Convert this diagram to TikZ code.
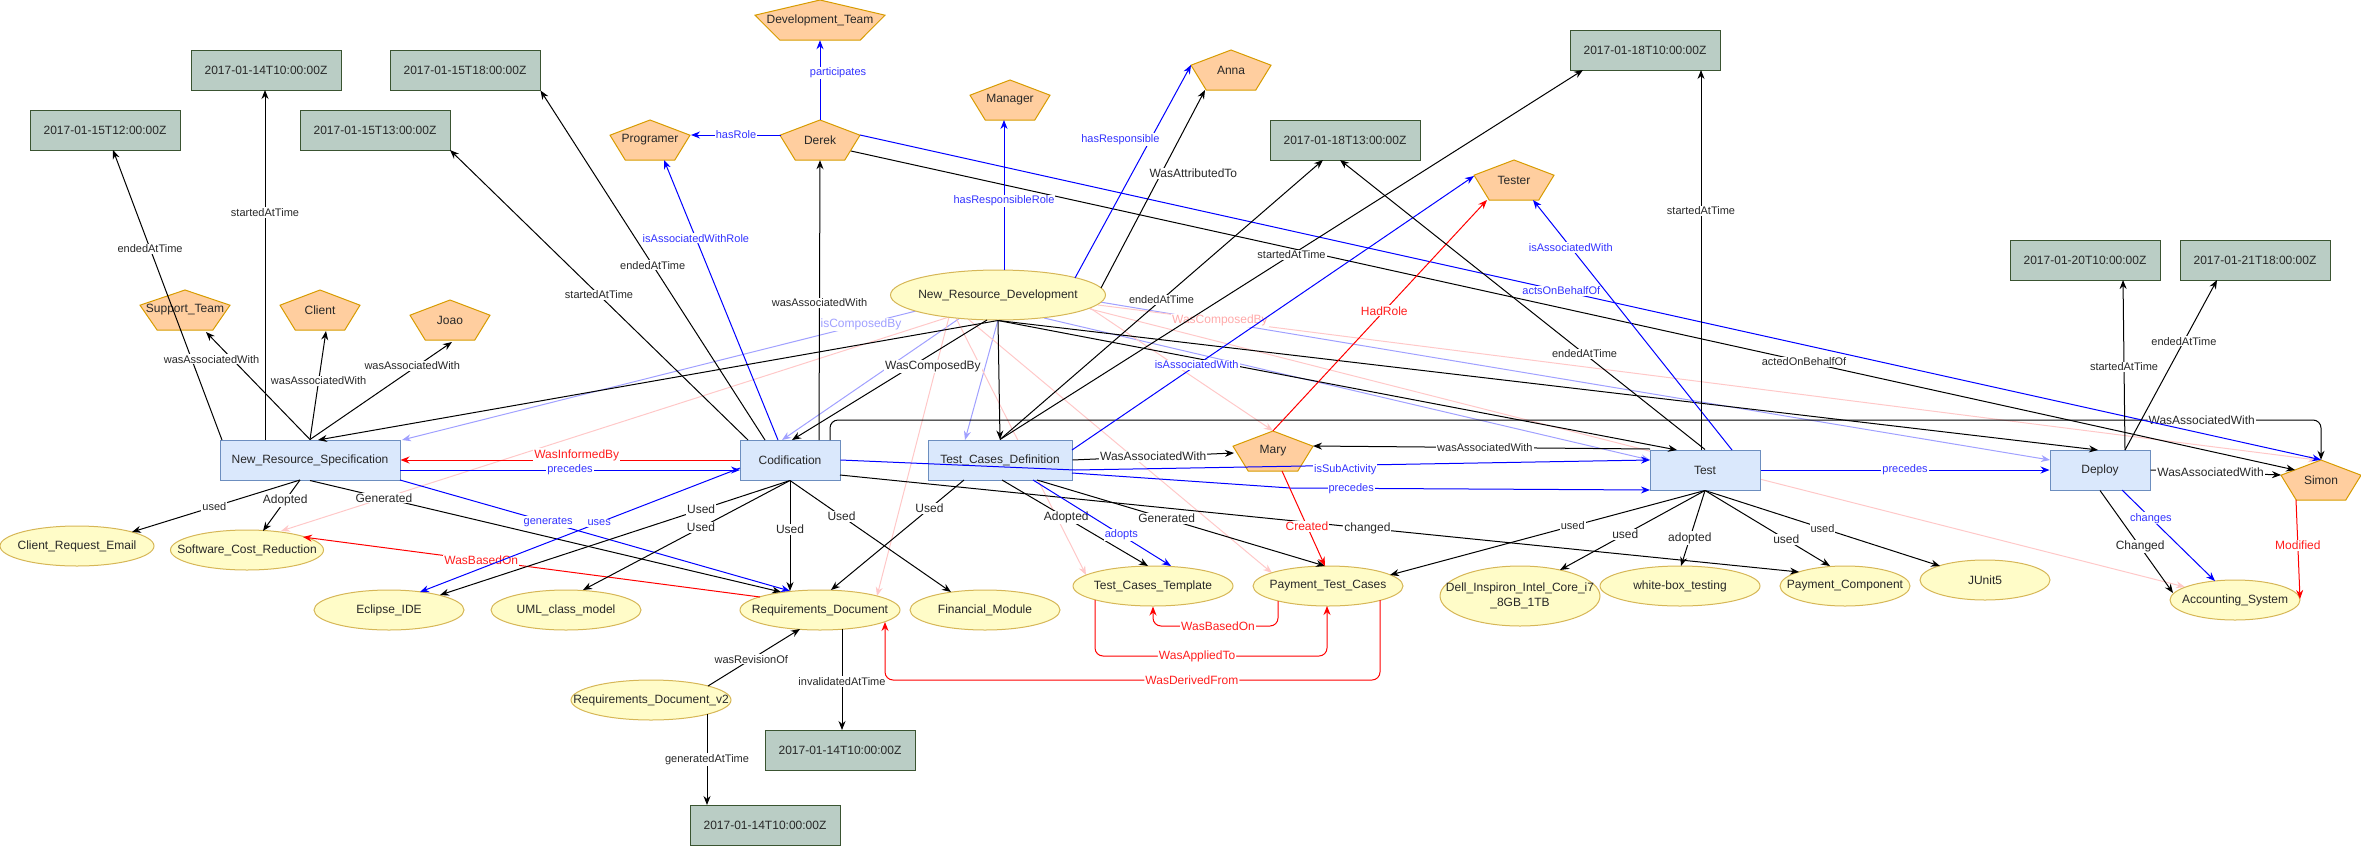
\documentclass[tikz,border=0pt]{standalone}
\usepackage{fontspec}
\setmainfont{Liberation Sans}
\usetikzlibrary{shapes.geometric,arrows.meta}
\pgfdeclarelayer{bg}
\pgfsetlayers{bg,main}
\definecolor{tfill}{RGB}{186,205,197}
\definecolor{tdraw}{RGB}{58,84,49}
\definecolor{agfill}{RGB}{255,206,159}
\definecolor{agdraw}{RGB}{215,155,0}
\definecolor{acfill}{RGB}{218,232,252}
\definecolor{acdraw}{RGB}{108,142,191}
\definecolor{enfill}{RGB}{255,252,200}
\definecolor{endraw}{RGB}{214,182,86}
\definecolor{txt}{RGB}{40,40,40}
\definecolor{cblue}{RGB}{0,0,255}
\definecolor{cbluet}{RGB}{51,51,255}
\definecolor{cred}{RGB}{255,0,0}
\definecolor{credt}{RGB}{255,30,30}
\definecolor{clblue}{RGB}{160,160,255}
\definecolor{cpink}{RGB}{255,200,200}
\definecolor{cpinkt}{RGB}{255,170,170}
\newcommand{\fsz}[1]{\fontsize{#1}{15}\selectfont}
\newcommand{\ztext}[1]{\makebox[0pt][c]{#1}}
\newcommand{\agentnode}[5]{%
  \filldraw[agentshape] (#2,#3) ++(0,-20) -- ++(#4/2,15.2) -- ++(-0.19*#4,24.8) -- ++(-0.62*#4,0) -- ++(-0.19*#4,-24.8) -- cycle;
  \node[agenttext, minimum width=#4pt] (#1) at (#2,#3) {#5};}
\tikzset{
  timebox/.style={rectangle, draw=tdraw, fill=tfill, line width=1pt, minimum width=150pt, minimum height=40pt, inner sep=0pt, font=\fsz{12}, text=txt},
  activity/.style={rectangle, draw=acdraw, fill=acfill, line width=1pt, minimum height=40pt, inner sep=0pt, font=\fsz{12}, text=txt},
  entity/.style={ellipse, draw=endraw, fill=enfill, line width=1pt, minimum height=40pt, inner sep=0pt, font=\fsz{12}, text=txt},
  agentshape/.style={draw=agdraw, fill=agfill, line width=1pt, line join=miter},
  agenttext/.style={rectangle, minimum height=40pt, inner sep=0pt, font=\fsz{12}, text=txt},
  conn/.style={line width=1pt, draw=black, -{Stealth[length=9pt,width=7pt]}},
  bedge/.style={draw=cblue},
  redge/.style={draw=cred},
  lbedge/.style={draw=clblue},
  pedge/.style={draw=cpink},
  lbl/.style={fill=white, inner sep=1pt, font=\fsz{11}, text=txt},
  bl12/.style={font=\fsz{12}}
}
\begin{document}
\begin{tikzpicture}[x=1pt,y=-1pt]
\useasboundingbox (0,0) rectangle (2361,846);
% time nodes
\node[timebox] (T1) at (266,70) {2017-01-14T10:00:00Z};
\node[timebox] (T2) at (465,70) {2017-01-15T18:00:00Z};
\node[timebox] (T3) at (105,130) {2017-01-15T12:00:00Z};
\node[timebox] (T4) at (375,130) {2017-01-15T13:00:00Z};
\node[timebox] (T5) at (1645,50) {2017-01-18T10:00:00Z};
\node[timebox] (T6) at (1345,140) {2017-01-18T13:00:00Z};
\node[timebox] (T7) at (2085,260) {2017-01-20T10:00:00Z};
\node[timebox] (T8) at (2255,260) {2017-01-21T18:00:00Z};
\node[timebox] (T9) at (840,750) {2017-01-14T10:00:00Z};
\node[timebox] (T10) at (765,825) {2017-01-14T10:00:00Z};
% agents
\agentnode{DevTeam}{820}{20}{130}{Development\_Team}
\agentnode{Programer}{650}{140}{80}{Programer}
\agentnode{Derek}{820}{140}{80}{Derek}
\agentnode{Manager}{1010}{100}{80}{Manager}
\agentnode{Anna}{1231}{70}{80}{Anna}
\agentnode{Tester}{1514}{180}{80}{Tester}
\agentnode{SupportTeam}{185}{310}{90}{Support\_Team}
\agentnode{Client}{320}{310}{80}{Client}
\agentnode{Joao}{450}{320}{80}{Joao}
\agentnode{Mary}{1273}{451}{80}{Mary}
\agentnode{Simon}{2321}{480}{80}{Simon}
% activities
\node[activity, minimum width=180pt] (NRS) at (310,460) {New\_Resource\_Specification};
\node[activity, minimum width=100pt] (Cod) at (790,460) {Codification};
\node[activity, minimum width=144pt] (TCD) at (1000,460) {Test\_Cases\_Definition};
\node[activity, minimum width=110pt] (Test) at (1705,470) {Test};
\node[activity, minimum width=100pt] (Deploy) at (2100,470) {Deploy};
% entities
\node[entity, minimum width=215pt, minimum height=50pt] (NRD) at (998,295) {\ztext{New\_Resource\_Development}};
\node[entity, minimum width=154pt] (CRE) at (77,546) {\ztext{Client\_Request\_Email}};
\node[entity, minimum width=153pt] (SCR) at (247,550) {\ztext{Software\_Cost\_Reduction}};
\node[entity, minimum width=150pt] (Eclipse) at (389,610) {\ztext{Eclipse\_IDE}};
\node[entity, minimum width=150pt] (UML) at (566,610) {\ztext{UML\_class\_model}};
\node[entity, minimum width=160pt] (ReqDoc) at (820,610) {\ztext{Requirements\_Document}};
\node[entity, minimum width=150pt] (FinMod) at (985,610) {\ztext{Financial\_Module}};
\node[entity, minimum width=160pt] (TCT) at (1153,586) {\ztext{Test\_Cases\_Template}};
\node[entity, minimum width=150pt] (PTC) at (1328,586) {\ztext{Payment\_Test\_Cases}};
\node[entity, minimum width=160pt, minimum height=60pt] (Dell) at (1520,596) {\ztext{\begin{tabular}{@{}c@{}}Dell\_Inspiron\_Intel\_Core\_i7\\\_8GB\_1TB\end{tabular}}};
\node[entity, minimum width=160pt] (WBT) at (1680,586) {\ztext{white-box\_testing}};
\node[entity, minimum width=130pt] (PayComp) at (1845,586) {\ztext{Payment\_Component}};
\node[entity, minimum width=130pt] (JUnit5) at (1985,580) {\ztext{JUnit5}};
\node[entity, minimum width=130pt] (AccSys) at (2235,600) {\ztext{Accounting\_System}};
\node[entity, minimum width=160pt] (ReqDocV2) at (651,700) {\ztext{Requirements\_Document\_v2}};

% faint composition edges
\begin{pgfonlayer}{bg}
\draw[conn,lbedge] ([shift={(-82,16)}]NRD.center) -- node[lbl,text=clblue,font=\fsz{12},pos=0.107]{isComposedBy} ([shift={(92,-20)}]NRS.center);
\draw[conn,lbedge] ([shift={(-38,23)}]NRD.center) -- ([shift={(-8,-20)}]Cod.center);
\draw[conn,lbedge] ([shift={(0,25)}]NRD.center) -- ([shift={(-35,-20)}]TCD.center);
\draw[conn,lbedge] ([shift={(46,23)}]NRD.center) -- ([shift={(-55,-10)}]Test.center);
\draw[conn,lbedge] ([shift={(102,7)}]NRD.center) -- ([shift={(-50,-10)}]Deploy.center);
\draw[conn,pedge] ([shift={(-49,22)}]NRD.center) -- ([shift={(34,-19)}]SCR.center);
\draw[conn,pedge] ([shift={(-49,22)}]NRD.center) -- ([shift={(57,-14)}]ReqDoc.center);
\draw[conn,pedge] ([shift={(-42,23)}]NRD.center) -- ([shift={(-67,-11)}]TCT.center);
\draw[conn,pedge] ([shift={(-30,24)}]NRD.center) -- ([shift={(-56,-13)}]PTC.center);
\draw[conn,pedge] ([shift={(92,13)}]NRD.center) -- (Mary.north);
\draw[conn,pedge] ([shift={(100,10)}]NRD.center) -- node[lbl,text=cpinkt,font=\fsz{12},pos=0.1]{WasComposedBy} ([shift={(-4,-20)}]Simon.center);
\draw[conn,pedge] ([shift={(92,14)}]NRD.center) -- ([shift={(-50,-13)}]AccSys.center);
\end{pgfonlayer}

% New_Resource_Specification
\draw[conn] ([shift={(-88,-20)}]NRS.center) -- node[lbl,pos=0.66]{endedAtTime} ([shift={(8,20)}]T3.center);
\draw[conn] ([shift={(-45,-20)}]NRS.center) -- node[lbl,pos=0.65]{startedAtTime} ([shift={(-1,20)}]T1.center);
\draw[conn] (NRS.north) -- node[lbl,pos=0.745,xshift=-21pt]{wasAssociatedWith} ([shift={(21,22)}]SupportTeam.center);
\draw[conn] (NRS.north) -- node[lbl,pos=0.54]{wasAssociatedWith} ([shift={(6,21)}]Client.center);
\draw[conn] (NRS.north) -- node[lbl,pos=0.755,xshift=-5pt]{wasAssociatedWith} ([shift={(2,22)}]Joao.center);
\draw[conn] ([shift={(-10,20)}]NRS.center) -- node[lbl,pos=0.51]{used} ([shift={(55,-14)}]CRE.center);
\draw[conn] ([shift={(-10,20)}]NRS.center) -- node[lbl,bl12,pos=0.4]{Adopted} ([shift={(16,-19)}]SCR.center);
\draw[conn] (NRS.south) -- node[lbl,bl12,pos=0.157]{Generated} ([shift={(-39,-18)}]ReqDoc.center);
\draw[conn,bedge] ([shift={(90,20)}]NRS.center) -- node[lbl,text=cbluet,pos=0.38]{generates} ([shift={(-30,-19)}]ReqDoc.center);
\draw[conn,redge] (Cod.west) -- node[lbl,text=credt,bl12,pos=0.48,yshift=5pt]{WasInformedBy} (NRS.east);
\draw[conn,bedge] ([shift={(90,10)}]NRS.center) -- node[lbl,text=cbluet]{precedes} ([shift={(-50,10)}]Cod.center);
\draw[conn,redge] ([shift={(-60,-13)}]ReqDoc.center) -- node[lbl,text=credt,bl12,pos=0.61]{WasBasedOn} ([shift={(56,-13)}]SCR.center);

% Codification
\draw[conn,bedge] ([shift={(-50,8)}]Cod.center) -- node[lbl,text=cbluet,pos=0.44]{uses} ([shift={(31,-18)}]Eclipse.center);
\draw[conn] (Cod.south) -- node[lbl,bl12,pos=0.254]{Used} ([shift={(51,-15)}]Eclipse.center);
\draw[conn] (Cod.south) -- node[lbl,bl12,pos=0.43]{Used} ([shift={(17,-20)}]UML.center);
\draw[conn] (Cod.south) -- node[lbl,bl12,pos=0.44]{Used} ([shift={(-30,-19)}]ReqDoc.center);
\draw[conn] (Cod.south) -- node[lbl,bl12,pos=0.32]{Used} ([shift={(-34,-18)}]FinMod.center);
\draw[conn] ([shift={(50,15)}]Cod.center) -- node[lbl,bl12,pos=0.55]{changed} ([shift={(-46,-14)}]PayComp.center);
\draw[conn,bedge] (Cod.east) -- (1075,470) -- node[lbl,text=cbluet,pos=0.47,yshift=-4pt]{isSubActivity} ([shift={(-55,-10)}]Test.center);
\draw[conn,bedge] ([shift={(-12,-20)}]Cod.center) -- node[lbl,text=cbluet,pos=0.72]{isAssociatedWithRole} ([shift={(14,20)}]Programer.center);
\draw[conn] ([shift={(29,-20)}]Cod.center) -- node[lbl,pos=0.49]{wasAssociatedWith} (Derek.south);
\draw[conn] ([shift={(-25,-20)}]Cod.center) -- node[lbl,pos=0.5]{endedAtTime} (T2.south east);
\draw[conn] ([shift={(-42,-20)}]Cod.center) -- node[lbl,pos=0.5]{startedAtTime} ([shift={(75,20)}]T4.center);
\draw[conn,rounded corners=8pt] ([shift={(40,-20)}]Cod.center) -- ++(0,-20) -- node[lbl,bl12,pos=0.92]{WasAssociatedWith} ++(1491,0) -- (Simon.north);

% Derek
\draw[conn,bedge] (Derek.north) -- node[lbl,text=cbluet,pos=0.59,xshift=18pt]{participates} (DevTeam.south);
\draw[conn,bedge] ([shift={(-39,-5)}]Derek.center) -- node[lbl,text=cbluet]{hasRole} ([shift={(41,-5)}]Programer.center);
\draw[conn,bedge] ([shift={(40,-5)}]Derek.center) -- node[lbl,text=cbluet,pos=0.48]{actsOnBehalfOf} (Simon.north);
\draw[conn] ([shift={(31,11)}]Derek.center) -- node[lbl,pos=0.66]{actedOnBehalfOf} ([shift={(-26,-10)}]Simon.center);

% New_Resource_Development
\draw[conn] (NRD.south) -- (TCD.north);
\draw[conn] (NRD.south) -- ([shift={(8,-20)}]NRS.center);
\draw[conn] ([shift={(-11,25)}]NRD.center) -- node[lbl,bl12,pos=0.39,xshift=22pt]{WasComposedBy} ([shift={(2,-20)}]Cod.center);
\draw[conn] (NRD.south) -- ([shift={(-28,-20)}]Test.center);
\draw[conn] (NRD.south) -- ([shift={(-2,-20)}]Deploy.center);
\draw[conn] ([shift={(103,-7)}]NRD.center) -- node[lbl,bl12,pos=0.58,xshift=32pt]{WasAttributedTo} ([shift={(-26,20)}]Anna.center);
\draw[conn,bedge] ([shift={(77,-17)}]NRD.center) -- node[lbl,text=cbluet,pos=0.65,xshift=-30pt]{hasResponsible} ([shift={(-40,-5)}]Anna.center);
\draw[conn,bedge] ([shift={(6,-25)}]NRD.center) -- node[lbl,text=cbluet,pos=0.46]{hasResponsibleRole} ([shift={(-6,20)}]Manager.center);

% Test_Cases_Definition
\draw[conn] (TCD.north) -- node[lbl,pos=0.5]{endedAtTime} ([shift={(-22,20)}]T6.center);
\draw[conn] (TCD.north) -- node[lbl,pos=0.5]{startedAtTime} ([shift={(-62,20)}]T5.center);
\draw[conn] (TCD.east) -- node[lbl,bl12]{WasAssociatedWith} ([shift={(-39,2)}]Mary.center);
\draw[conn,bedge] ([shift={(72,-10)}]TCD.center) -- node[lbl,text=cbluet,pos=0.31]{isAssociatedWith} ([shift={(-40,-4)}]Tester.center);
\draw[conn,bedge] ([shift={(72,13)}]TCD.center) -- (1290,488) -- node[lbl,text=cbluet,pos=0.17]{precedes} ([shift={(-55,20)}]Test.center);
\draw[conn] ([shift={(-36,20)}]TCD.center) -- node[lbl,bl12,pos=0.26]{Used} ([shift={(11,-20)}]ReqDoc.center);
\draw[conn] ([shift={(2,20)}]TCD.center) -- node[lbl,bl12,pos=0.44]{Adopted} ([shift={(-5,-20)}]TCT.center);
\draw[conn,bedge] ([shift={(33,20)}]TCD.center) -- node[lbl,text=cbluet,pos=0.64]{adopts} ([shift={(18,-20)}]TCT.center);
\draw[conn] ([shift={(37,20)}]TCD.center) -- node[lbl,bl12,pos=0.45]{Generated} ([shift={(-3,-20)}]PTC.center);

% Mary
\draw[conn,redge] (Mary.north) -- node[lbl,text=credt,bl12,pos=0.52]{HadRole} ([shift={(-27,20)}]Tester.center);
\draw[conn,redge] ([shift={(9,20)}]Mary.center) -- node[lbl,text=credt,bl12,pos=0.58]{Created} ([shift={(-3,-20)}]PTC.center);

% Test
\draw[conn] ([shift={(-55,-21)}]Test.center) -- node[lbl,pos=0.49]{wasAssociatedWith} ([shift={(40,-5)}]Mary.center);
\draw[conn,bedge] ([shift={(27,-20)}]Test.center) -- node[lbl,text=cbluet,pos=0.81]{isAssociatedWith} ([shift={(19,20)}]Tester.center);
\draw[conn] (Test.north) -- node[lbl,pos=0.33]{endedAtTime} ([shift={(-5,20)}]T6.center);
\draw[conn] ([shift={(-4,-20)}]Test.center) -- node[lbl,pos=0.63]{startedAtTime} ([shift={(56,20)}]T5.center);
\draw[conn,bedge] (Test.east) -- node[lbl,text=cbluet]{precedes} (Deploy.west);
\draw[conn] (Test.south) -- node[lbl,pos=0.42]{used} ([shift={(62,-11)}]PTC.center);
\draw[conn] (Test.south) -- node[lbl,bl12,pos=0.55]{used} ([shift={(40,-26)}]Dell.center);
\draw[conn] (Test.south) -- node[lbl,bl12,pos=0.63]{adopted} ([shift={(1,-20)}]WBT.center);
\draw[conn] (Test.south) -- node[lbl,bl12,pos=0.65]{used} ([shift={(-15,-20)}]PayComp.center);
\draw[conn] (Test.south) -- node[lbl,pos=0.5]{used} ([shift={(-45,-14)}]JUnit5.center);

% Deploy
\draw[conn] (Deploy.east) -- node[lbl,bl12,pos=0.46]{WasAssociatedWith} ([shift={(-40,-5)}]Simon.center);
\draw[conn] ([shift={(25,-20)}]Deploy.center) -- node[lbl,pos=0.49]{startedAtTime} ([shift={(38,20)}]T7.center);
\draw[conn] ([shift={(25,-20)}]Deploy.center) -- node[lbl,pos=0.64]{endedAtTime} ([shift={(-38,20)}]T8.center);
\draw[conn] (Deploy.south) -- node[lbl,bl12,pos=0.55]{Changed} ([shift={(-62,-7)}]AccSys.center);
\draw[conn,bedge] ([shift={(22,20)}]Deploy.center) -- node[lbl,text=cbluet,pos=0.31]{changes} ([shift={(-20,-19)}]AccSys.center);
\draw[conn,redge] ([shift={(-25,20)}]Simon.center) -- node[lbl,text=credt,bl12,pos=0.46]{Modified} ([shift={(65,-1)}]AccSys.center);

% Requirements documents
\draw[conn] ([shift={(57,-14)}]ReqDocV2.center) -- node[lbl,pos=0.47]{wasRevisionOf} ([shift={(-20,19)}]ReqDoc.center);
\draw[conn] ([shift={(22,19)}]ReqDoc.center) -- node[lbl,pos=0.52]{invalidatedAtTime} ([shift={(2,-20)}]T9.center);
\draw[conn] ([shift={(56,14)}]ReqDocV2.center) -- node[lbl,pos=0.5]{generatedAtTime} ([shift={(-58,-20)}]T10.center);

% red orthogonal edges
\draw[conn,redge,rounded corners=8pt] ([shift={(52,14)}]PTC.center) -- ++(0,80) -| node[lbl,text=credt,bl12,pos=0.19]{WasDerivedFrom} ([shift={(65,12)}]ReqDoc.center);
\draw[conn,redge,rounded corners=8pt] ([shift={(-58,14)}]TCT.center) -- ++(0,56) -| node[lbl,text=credt,bl12,pos=0.22]{WasAppliedTo} ([shift={(-1,20)}]PTC.center);
\draw[conn,redge,rounded corners=8pt] ([shift={(-50,15)}]PTC.center) -- ++(0,25) -| node[lbl,text=credt,bl12,pos=0.24]{WasBasedOn} (TCT.south);
\end{tikzpicture}
\end{document}
